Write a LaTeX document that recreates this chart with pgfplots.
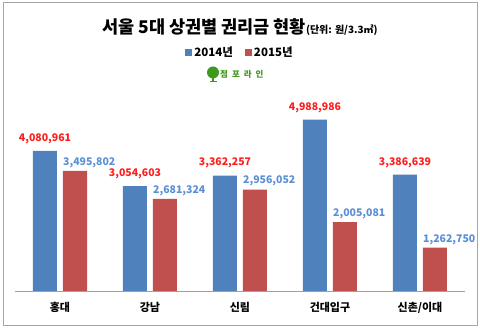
\documentclass[border=0pt]{standalone}
\usepackage{fontspec}
\setmainfont{Noto Sans CJK KR}
\usepackage{pgfplots}
\pgfplotsset{compat=1.18}
\definecolor{barblue}{HTML}{4F81BD}
\definecolor{barred}{HTML}{C0504D}
\definecolor{labred}{HTML}{FF1E1E}
\definecolor{labblue}{HTML}{5A8FD6}
\definecolor{axisgray}{HTML}{A0A0A0}
\definecolor{bordergray}{HTML}{A6A6A6}
\definecolor{logogreen}{HTML}{3E9A1C}
\begin{document}
\begin{tikzpicture}
\useasboundingbox (0,0) rectangle (480pt,328pt);
\draw[color=bordergray, line width=0.8pt] (3pt,3pt) rectangle (477pt,326pt);
\node[inner sep=0pt] at (240pt,301pt) {\bfseries\fontsize{17.5}{20}\selectfont 서울 5대 상권별 권리금 현황{\fontsize{10}{12}\selectfont(단위: 원/3.3㎡)}};
\fill[logogreen] (213pt,255.5pt) circle (6pt);
\fill[logogreen] (212.2pt,246pt) rectangle (213.8pt,251pt);
\fill[logogreen] (209.5pt,245.5pt) rectangle (216.5pt,246.8pt);
\node[anchor=west, inner sep=0pt, text=logogreen] at (220pt,254pt) {\bfseries\fontsize{8.5}{10}\selectfont 점\hspace{4pt}포\hspace{4pt}라\hspace{4pt}인};
\begin{axis}[
  at={(15pt,37pt)}, anchor=south west,
  scale only axis, width=450pt, height=206pt,
  xmin=-0.5, xmax=4.5, ymin=0, ymax=6000000,
  ybar, bar width=24pt,
  axis x line*=bottom, axis y line=none,
  x axis line style={draw=axisgray, line width=0.8pt},
  xtick={0,1,2,3,4},
  xticklabels={홍대,강남,신림,건대입구,신촌/이대},
  major tick length=0pt,
  xticklabel style={font=\bfseries\fontsize{11}{13}\selectfont, yshift=-8pt},
  ytick=\empty,
  clip=false,
  legend style={at={(0.5,1.16)}, anchor=center, draw=none, fill=none,
    legend columns=2, font=\bfseries\fontsize{11.5}{13}\selectfont,
    /tikz/every even column/.append style={column sep=10pt}},
]
\addplot[fill=barblue, draw=none, bar shift=-15pt,
  legend image code/.code={\fill[barblue] (0pt,-3.5pt) rectangle (7pt,3.5pt);},
  nodes near coords, point meta=explicit symbolic,
  every node near coord/.append style={text=labred, anchor=south, inner sep=0pt, yshift=7pt, font=\bfseries\fontsize{10.5}{12}\selectfont}]
  table[meta=lab]{
x y lab
0 4080961 4,080,961
1 3054603 3,054,603
2 3362257 3,362,257
3 4988986 4,988,986
4 3386639 3,386,639
};
\addlegendentry{2014년}
\addplot[fill=barred, draw=none, bar shift=15pt,
  legend image code/.code={\fill[barred] (0pt,-3.5pt) rectangle (7pt,3.5pt);},
  nodes near coords, point meta=explicit symbolic,
  every node near coord/.append style={text=labblue, anchor=south west, inner sep=0pt, xshift=-12pt, yshift=3pt, font=\bfseries\fontsize{10.5}{12}\selectfont}]
  table[meta=lab]{
x y lab
0 3495802 3,495,802
1 2681324 2,681,324
2 2956052 2,956,052
3 2005081 2,005,081
4 1262750 1,262,750
};
\addlegendentry{2015년}
\end{axis}
\end{tikzpicture}
\end{document}
